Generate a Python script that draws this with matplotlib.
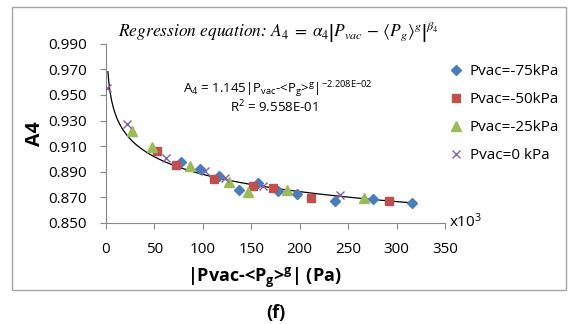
import numpy as np
import matplotlib
matplotlib.use("Agg")
import matplotlib.pyplot as plt
from matplotlib.patches import Rectangle

# data (x in kPa, i.e. x10^3 Pa)
x_75 = [77, 97, 117, 137, 157, 178, 197, 236, 276, 316]
y_75 = [0.898, 0.892, 0.887, 0.876, 0.8815, 0.875, 0.873, 0.867, 0.8687, 0.8654]
x_50 = [53, 72, 112, 152, 172, 212, 292]
y_50 = [0.9065, 0.8953, 0.8841, 0.8791, 0.8776, 0.8693, 0.8674]
x_25 = [27, 47, 87, 127, 147, 187, 266]
y_25 = [0.9219, 0.9091, 0.8945, 0.8823, 0.8744, 0.8758, 0.8693]
x_0 = [1.5, 22, 62, 102, 123, 162, 242]
y_0 = [0.9552, 0.9271, 0.9005, 0.8908, 0.8849, 0.8791, 0.8719]

labels = ['Pvac=-75kPa', 'Pvac=-50kPa', 'Pvac=-25kPa', 'Pvac=0 kPa']
y_ticks = [0.850, 0.870, 0.890, 0.910, 0.930, 0.950, 0.970, 0.990]
x_ticks = [0, 50, 100, 150, 200, 250, 300, 350]

# regression trendline A4 = alpha * x^beta
alpha = 1.145
beta = -2.208e-02

plt.rcParams['font.family'] = ['Open Sans', 'DejaVu Sans']
plt.rcParams['mathtext.fontset'] = 'custom'
plt.rcParams['mathtext.rm'] = 'Open Sans'
plt.rcParams['mathtext.it'] = 'Open Sans:italic'
plt.rcParams['mathtext.bf'] = 'Open Sans:bold'

fig = plt.figure(figsize=(5.68, 3.24), dpi=100)
ax = fig.add_axes([106/568, 1 - 223/324, 339/568, (223 - 43.7)/324])

fig.patches.append(Rectangle((12/568, 1 - 290/324), 554/568, 283/324,
                             transform=fig.transFigure, fill=False,
                             edgecolor='#a6a6a6', lw=1.0))

xs = np.linspace(2, 317, 400)
ax.plot(xs, alpha * (xs * 1000) ** beta, color='black', lw=0.9, zorder=2)

ax.plot(x_75, y_75, 'D', ms=4.8, color='#4a7ebb', ls='none', label=labels[0], zorder=3)
ax.plot(x_50, y_50, 's', ms=6.2, color='#c0504d', ls='none', label=labels[1], zorder=3)
ax.plot(x_25, y_25, '^', ms=6.5, color='#9bbb59', ls='none', label=labels[2], zorder=3)
ax.plot(x_0, y_0, 'x', ms=6.0, mew=1.0, color='#8064a2', ls='none', label=labels[3], zorder=3)

ax.set_xlim(0, 350)
ax.set_ylim(0.850, 0.990)
ax.set_xticks(x_ticks)
ax.set_yticks(y_ticks)
ax.set_yticklabels([f"{v:.3f}" for v in y_ticks])
for s in ['top', 'right']:
    ax.spines[s].set_visible(False)
for s in ['left', 'bottom']:
    ax.spines[s].set_color('#868686')
    ax.spines[s].set_linewidth(0.8)
ax.tick_params(axis='both', colors='#868686', labelcolor='black', labelsize=11,
               length=4, width=0.8, direction='out')
ax.tick_params(axis='x', pad=10)
ax.tick_params(axis='y', pad=10)

ax.set_ylabel('A4', fontsize=14, fontweight='bold', labelpad=2)
fig.text(264/568, 1 - 278/324, r'|Pvac-<P$_{\mathbf{g}}$>$^{\mathbf{g}}$| (Pa)',
         fontsize=13, fontweight='bold', ha='center', va='center')
fig.text(276/568, 1 - 313/324, '(f)', fontsize=13, fontweight='bold',
         ha='center', va='center')
fig.text(449/568, 1 - 222/324, r'x10$^{3}$', fontsize=11, ha='left', va='center')

fig.text(118/568, 1 - 32/324,
         r'Regression equation: $A_4\;=\;\alpha_4\left|P_{vac}\,-\,\langle P_g\rangle^g\right|^{\beta_4}$',
         fontsize=12.5, family='STIXGeneral', style='italic',
         ha='left', va='center', math_fontfamily='stix')

fig.text(183/568, 1 - 90/324,
         r'A$_{4}$ = 1.145|P$_{\mathrm{vac}}$-<P$_{\mathrm{g}}$>$^{\mathrm{g}}$|$^{\mathrm{{-}2.208E{-}02}}$',
         fontsize=9.5, ha='left', va='center')
fig.text(230/568, 1 - 107/324, r'R$^{2}$ = 9.558E-01',
         fontsize=9.5, ha='left', va='center')

fig.legend(loc='upper left', bbox_to_anchor=(450/568, 1 - 64/324),
           frameon=False, fontsize=11, handlelength=0.8, handletextpad=0.5,
           labelspacing=0.85, borderpad=0, borderaxespad=0)

fig.savefig('out.png', dpi=100)
